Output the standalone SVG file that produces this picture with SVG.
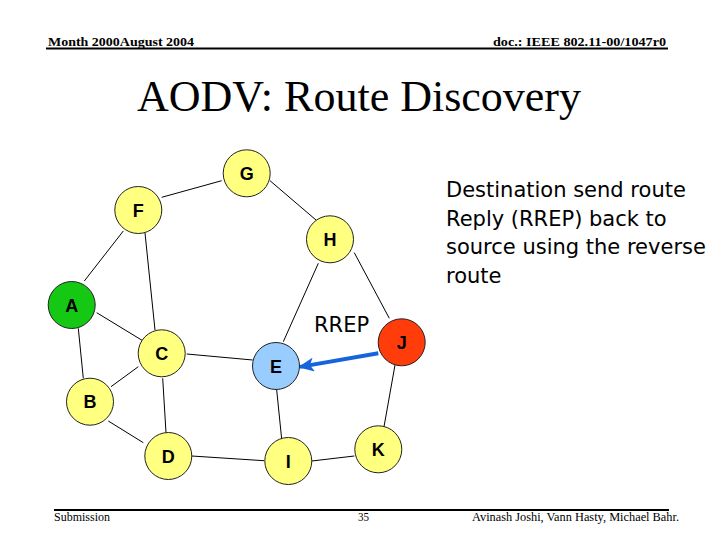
<svg xmlns="http://www.w3.org/2000/svg" width="720" height="540" viewBox="0 0 720 540">
<style>
.hdr{font-family:"Liberation Serif","Times New Roman",serif;font-size:13.5px;font-weight:bold;fill:#000}
.ftr{font-family:"Liberation Serif","Times New Roman",serif;font-size:12.5px;fill:#000}
.title{font-family:"Liberation Serif","Times New Roman",serif;font-size:44px;fill:#000}
.body{font-family:"DejaVu Sans","Verdana",sans-serif;font-size:21px;fill:#000}
.node circle{stroke:#222;stroke-width:1}
.y circle{fill:#ffff80}
.node text{font-family:"Liberation Sans",Arial,sans-serif;font-size:18px;font-weight:bold;fill:#000;text-anchor:middle}
.edges line{stroke:#000;stroke-width:1}
.edges line.msg{stroke:#1464dc;stroke-width:4}
</style>
<defs>
<marker id="ah" markerWidth="16" markerHeight="14" refX="14" refY="7" orient="auto" markerUnits="userSpaceOnUse" viewBox="0 0 16 14">
<path d="M0,0 L16,7 L0,14 L4,7 Z" fill="#1464dc"/>
</marker>
</defs>
<rect width="720" height="540" fill="#fff"/>
<text class="hdr" x="48" y="46" textLength="146" lengthAdjust="spacingAndGlyphs">Month 2000August 2004</text>
<text class="hdr" x="493" y="46" textLength="173" lengthAdjust="spacingAndGlyphs">doc.: IEEE 802.11-00/1047r0</text>
<line x1="46" y1="48.5" x2="668" y2="48.5" stroke="#000" stroke-width="2"/>
<text class="title" x="359" y="111" text-anchor="middle">AODV: Route Discovery</text>
<text class="body"><tspan x="446" y="197">Destination send route</tspan><tspan x="446" y="226">Reply (RREP) back to</tspan><tspan x="446" y="254">source using the reverse</tspan><tspan x="446" y="283">route</tspan></text>
<text class="body" x="314" y="332" font-size="22">RREP</text>
<g id="connectors" class="edges">
<line x1="161.7" y1="197.3" x2="221.7" y2="180.7"/>
<line x1="270" y1="180.7" x2="316" y2="220"/>
<line x1="123.3" y1="231" x2="84.3" y2="281"/>
<line x1="145" y1="233" x2="155" y2="330"/>
<line x1="318.3" y1="263.3" x2="283.3" y2="341.7"/>
<line x1="354.3" y1="252.7" x2="389.3" y2="318.3"/>
<line x1="78.3" y1="328.3" x2="83.3" y2="378.3"/>
<line x1="96.7" y1="312.7" x2="142.7" y2="340.7"/>
<line x1="111" y1="386.7" x2="138.3" y2="366.7"/>
<line x1="186.7" y1="354" x2="252.7" y2="360"/>
<line x1="162.7" y1="378.3" x2="166" y2="432.7"/>
<line x1="276.7" y1="390" x2="281.7" y2="439.3"/>
<line x1="395" y1="365" x2="384" y2="426.7"/>
<line x1="108.3" y1="421" x2="143.3" y2="442.7"/>
<line x1="191.7" y1="456" x2="264" y2="460.7"/>
<line x1="311.7" y1="461" x2="354.3" y2="456"/>
<line class="msg" x1="378.3" y1="353.3" x2="300" y2="366.9" marker-end="url(#ah)"/>
</g>
<g id="node-G" class="node y"><circle cx="246.7" cy="173.3" r="23.5"/><text x="246.7" y="180">G</text></g>
<g id="node-F" class="node y"><circle cx="138.3" cy="210" r="23.5"/><text x="138.3" y="216.5">F</text></g>
<g id="node-H" class="node y"><circle cx="330" cy="239.3" r="23.5"/><text x="330" y="246">H</text></g>
<g id="node-A" class="node"><circle cx="71.7" cy="305" r="23.5" fill="#14c814"/><text x="71.7" y="311.5">A</text></g>
<g id="node-C" class="node y"><circle cx="161.7" cy="353.3" r="23.5"/><text x="161.7" y="360">C</text></g>
<g id="node-E" class="node"><circle cx="276" cy="366" r="23.5" fill="#99ccff"/><text x="276" y="372.5">E</text></g>
<g id="node-J" class="node"><circle cx="401.7" cy="342.3" r="23.5" fill="#ff3c0a"/><text x="401.7" y="349">J</text></g>
<g id="node-B" class="node y"><circle cx="90" cy="401.7" r="23.5"/><text x="90" y="408">B</text></g>
<g id="node-D" class="node y"><circle cx="168.3" cy="456" r="23.5"/><text x="168.3" y="462.5">D</text></g>
<g id="node-I" class="node y"><circle cx="288.3" cy="461" r="23.5"/><text x="288.3" y="467.5">I</text></g>
<g id="node-K" class="node y"><circle cx="378.3" cy="449.3" r="23.5"/><text x="378.3" y="456">K</text></g>
<line x1="54" y1="510" x2="669" y2="510" stroke="#000" stroke-width="2"/>
<text class="ftr" x="54" y="521" textLength="56" lengthAdjust="spacingAndGlyphs">Submission</text>
<text class="ftr" x="358" y="521" textLength="11" lengthAdjust="spacingAndGlyphs">35</text>
<text class="ftr" x="472" y="521" textLength="207" lengthAdjust="spacingAndGlyphs">Avinash Joshi, Vann Hasty, Michael Bahr.</text>
</svg>
